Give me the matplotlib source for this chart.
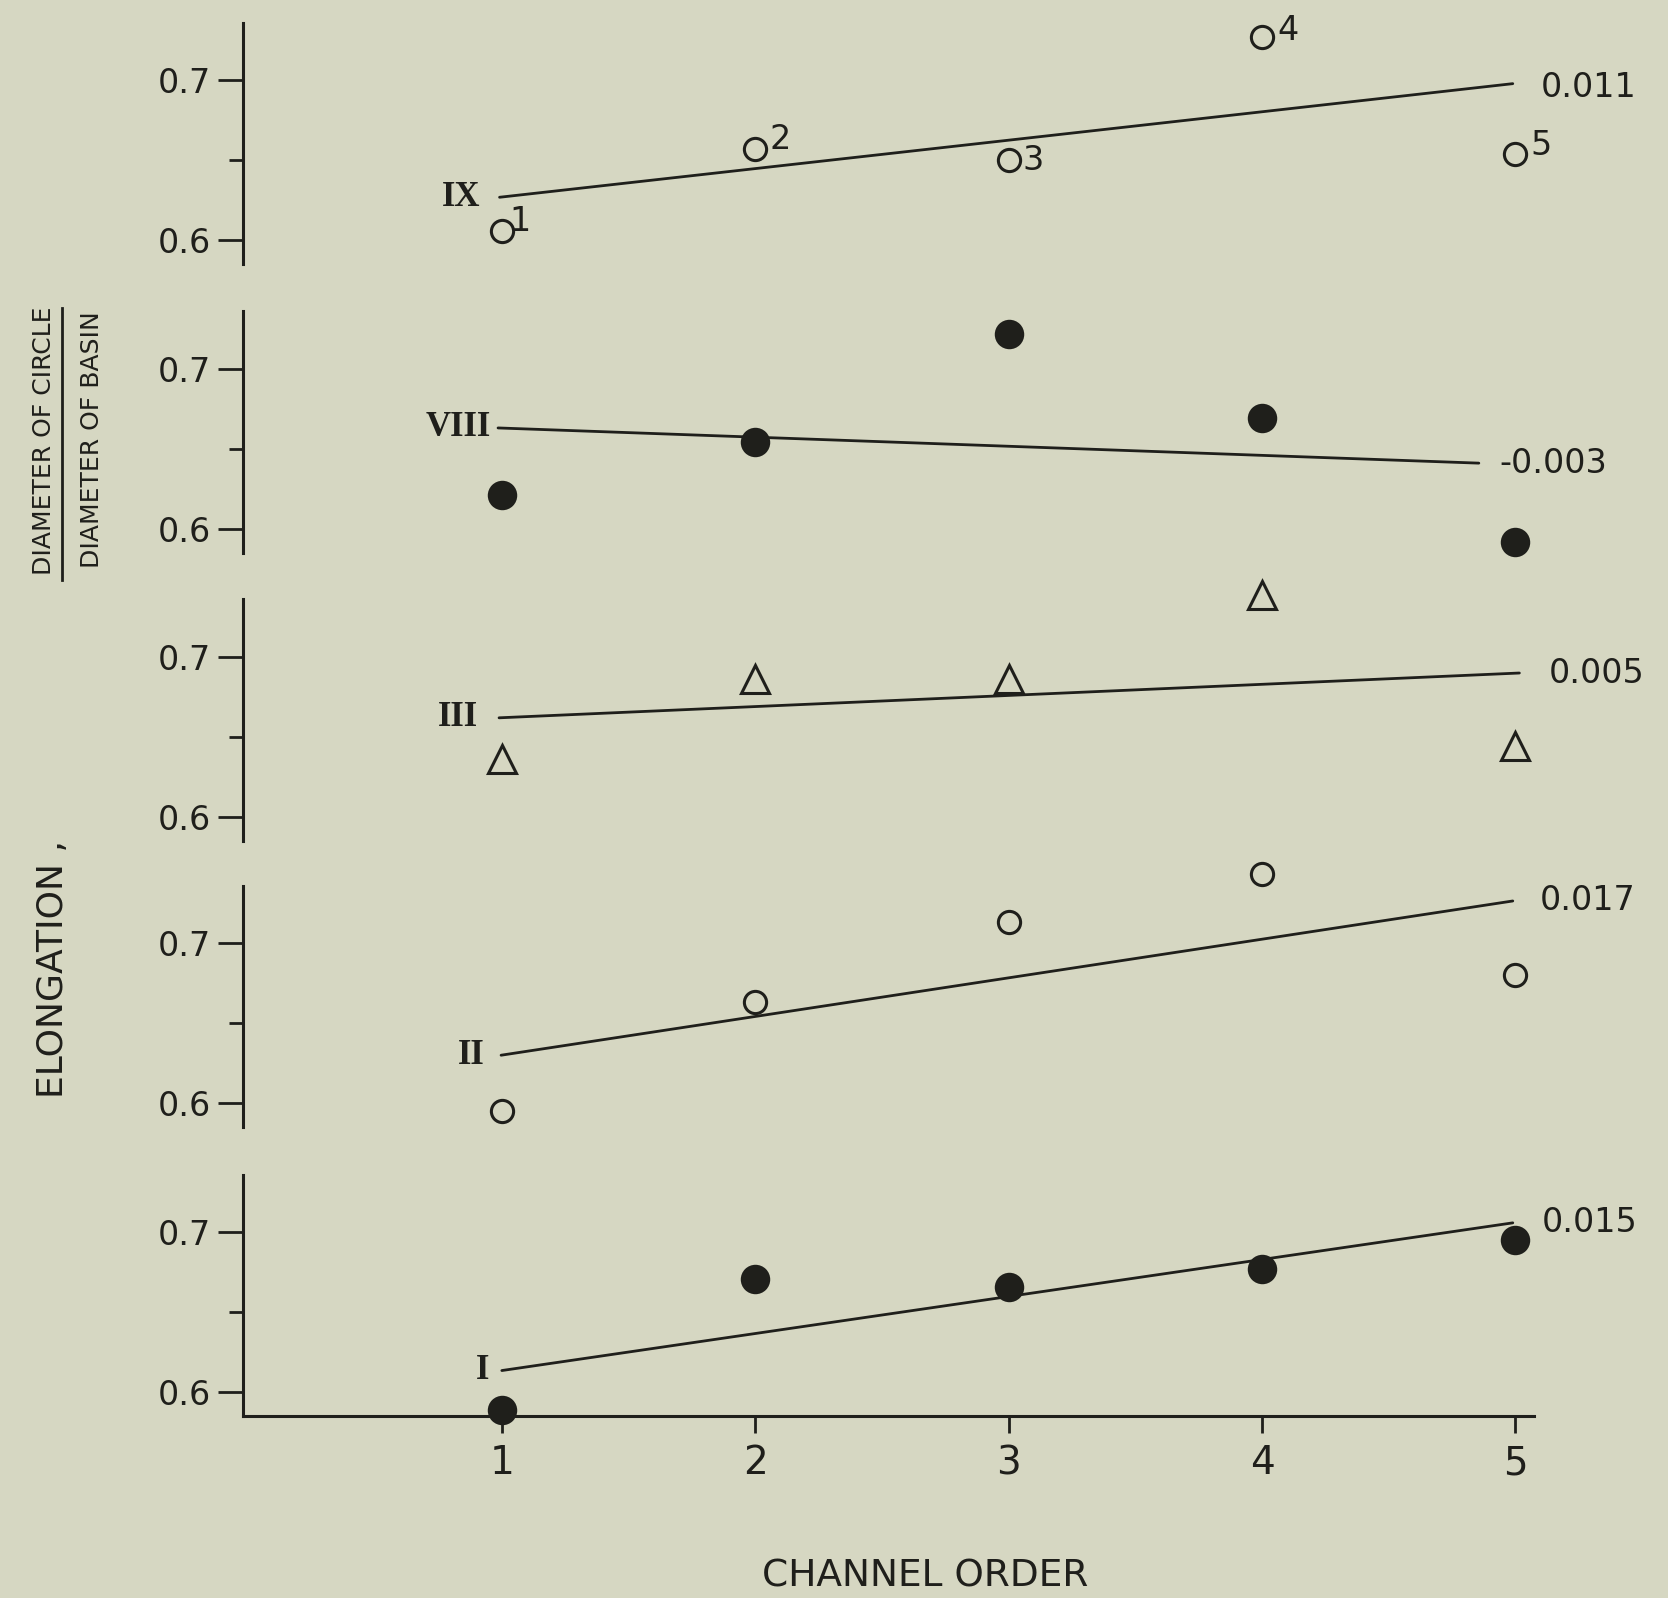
import matplotlib
matplotlib.use("Agg")
import matplotlib.pyplot as plt
from matplotlib.lines import Line2D

plt.rcParams['font.family'] = ['DejaVu Sans']

paper = '#d6d7c2'
ink = '#1f1f1b'

# channel order shared by all basins
order = [1, 2, 3, 4, 5]
order_labels = ['1', '2', '3', '4', '5']
ytick_vals = [0.6, 0.7]
ytick_labels = ['0.6', '0.7']

# elongation by channel order
basin_ix = [0.606, 0.657, 0.650, 0.727, 0.654]
basin_viii = [0.621, 0.6545, 0.722, 0.6695, 0.592]
basin_iii = [0.6365, 0.686, 0.6865, 0.7385, 0.6446]
basin_ii = [0.595, 0.663, 0.713, 0.743, 0.680]
basin_i = [0.589, 0.6707, 0.666, 0.6773, 0.6953]

# fitted lines as drawn (start/end channel order, elongation)
ix_fit_x = [0.99, 4.99]
ix_fit_y = [0.627, 0.698]
viii_fit_x = [0.984, 4.856]
viii_fit_y = [0.663, 0.641]
iii_fit_x = [0.988, 5.016]
iii_fit_y = [0.662, 0.690]
ii_fit_x = [0.996, 4.99]
ii_fit_y = [0.630, 0.7264]
i_fit_x = [0.999, 4.99]
i_fit_y = [0.6137, 0.706]

basin_names = ['IX', 'VIII', 'III', 'II', 'I']
slope_labels = ['0.011', '-0.003', '0.005', '0.017', '0.015']
ix_point_labels = ['1', '2', '3', '4', '5']

values = [basin_ix, basin_viii, basin_iii, basin_ii, basin_i]
fits_x = [ix_fit_x, viii_fit_x, iii_fit_x, ii_fit_x, i_fit_x]
fits_y = [ix_fit_y, viii_fit_y, iii_fit_y, ii_fit_y, i_fit_y]

# --- styling ---
markers = ['o', 'o', '^', 'o', 'o']
filled = [False, True, False, False, True]
msizes = [16, 19, 20, 16, 19]
name_dx = [-28, -29, -29.5, -21.6, -13.7]
slope_dx = [20, 15, 21, 19.5, 21]
slope_dy = [-3, 0, 0, 0, 0]
ix_lab_off = [(5, 7), (10, 7), (10, 0), (11, 5), (11, 6)]

fig = plt.figure(figsize=(16.68, 15.98), dpi=100, facecolor=paper)

bottoms = [0.8345, 0.6541, 0.4737, 0.2946, 0.1136]
left, width, height = 0.1455, 0.7742, 0.1512

for i in range(5):
    ax = fig.add_axes([left, bottoms[i], width, height])
    ax.set_facecolor('none')
    ax.set_xlim(-0.024, 5.074)
    ax.set_ylim(0.585, 0.736)
    ax.spines['top'].set_visible(False)
    ax.spines['right'].set_visible(False)
    ax.spines['left'].set_linewidth(2.2)
    ax.spines['left'].set_color(ink)

    ax.set_yticks(ytick_vals)
    ax.set_yticklabels(ytick_labels)
    ax.set_yticks([0.65], minor=True)
    ax.tick_params(axis='y', which='major', direction='out', length=18, width=2,
                   labelsize=24, pad=5, color=ink, labelcolor=ink)
    ax.tick_params(axis='y', which='minor', direction='out', length=10, width=2, color=ink)

    if i == 4:
        ax.spines['bottom'].set_linewidth(2.2)
        ax.spines['bottom'].set_color(ink)
        ax.set_xticks(order)
        ax.set_xticklabels(order_labels)
        ax.tick_params(axis='x', direction='out', length=12, width=2,
                       labelsize=28, pad=8, color=ink, labelcolor=ink)
    else:
        ax.spines['bottom'].set_visible(False)
        ax.set_xticks([])

    fx, fy = fits_x[i], fits_y[i]
    ax.plot(fx, fy, color=ink, lw=2, solid_capstyle='round', clip_on=False)
    ax.plot(order, values[i], linestyle='none', marker=markers[i], ms=msizes[i],
            mfc=ink if filled[i] else 'none', mec=ink, mew=2.2, clip_on=False)

    ax.annotate(basin_names[i], xy=(fx[0], fy[0]), xytext=(name_dx[i], 0),
                textcoords='offset points', ha='center', va='center',
                fontsize=25, family='Liberation Serif', weight='bold', color=ink)
    ax.annotate(slope_labels[i], xy=(fx[1], fy[1]), xytext=(slope_dx[i], slope_dy[i]),
                textcoords='offset points', ha='left', va='center',
                fontsize=24, color=ink)

    if i == 0:
        for x, y, lab, off in zip(order, basin_ix, ix_point_labels, ix_lab_off):
            ax.annotate(lab, xy=(x, y), xytext=off, textcoords='offset points',
                        ha='left', va='center', fontsize=24, color=ink)

# y-axis label with the fraction
fig.text(0.0318, 0.3936, 'ELONGATION ,', rotation=90, ha='center', va='center',
         fontsize=26, color=ink)
fig.text(0.0264, 0.7240, 'DIAMETER OF CIRCLE', rotation=90, ha='center', va='center',
         fontsize=18, color=ink)
fig.text(0.0552, 0.7247, 'DIAMETER OF BASIN', rotation=90, ha='center', va='center',
         fontsize=18, color=ink)
fig.add_artist(Line2D([0.0372, 0.0372], [0.637, 0.807], transform=fig.transFigure,
                      color=ink, lw=2))

fig.text(0.5549, 0.0134, 'CHANNEL ORDER', ha='center', va='center',
         fontsize=27, color=ink)

fig.savefig('out.png', dpi=100, facecolor=paper)
